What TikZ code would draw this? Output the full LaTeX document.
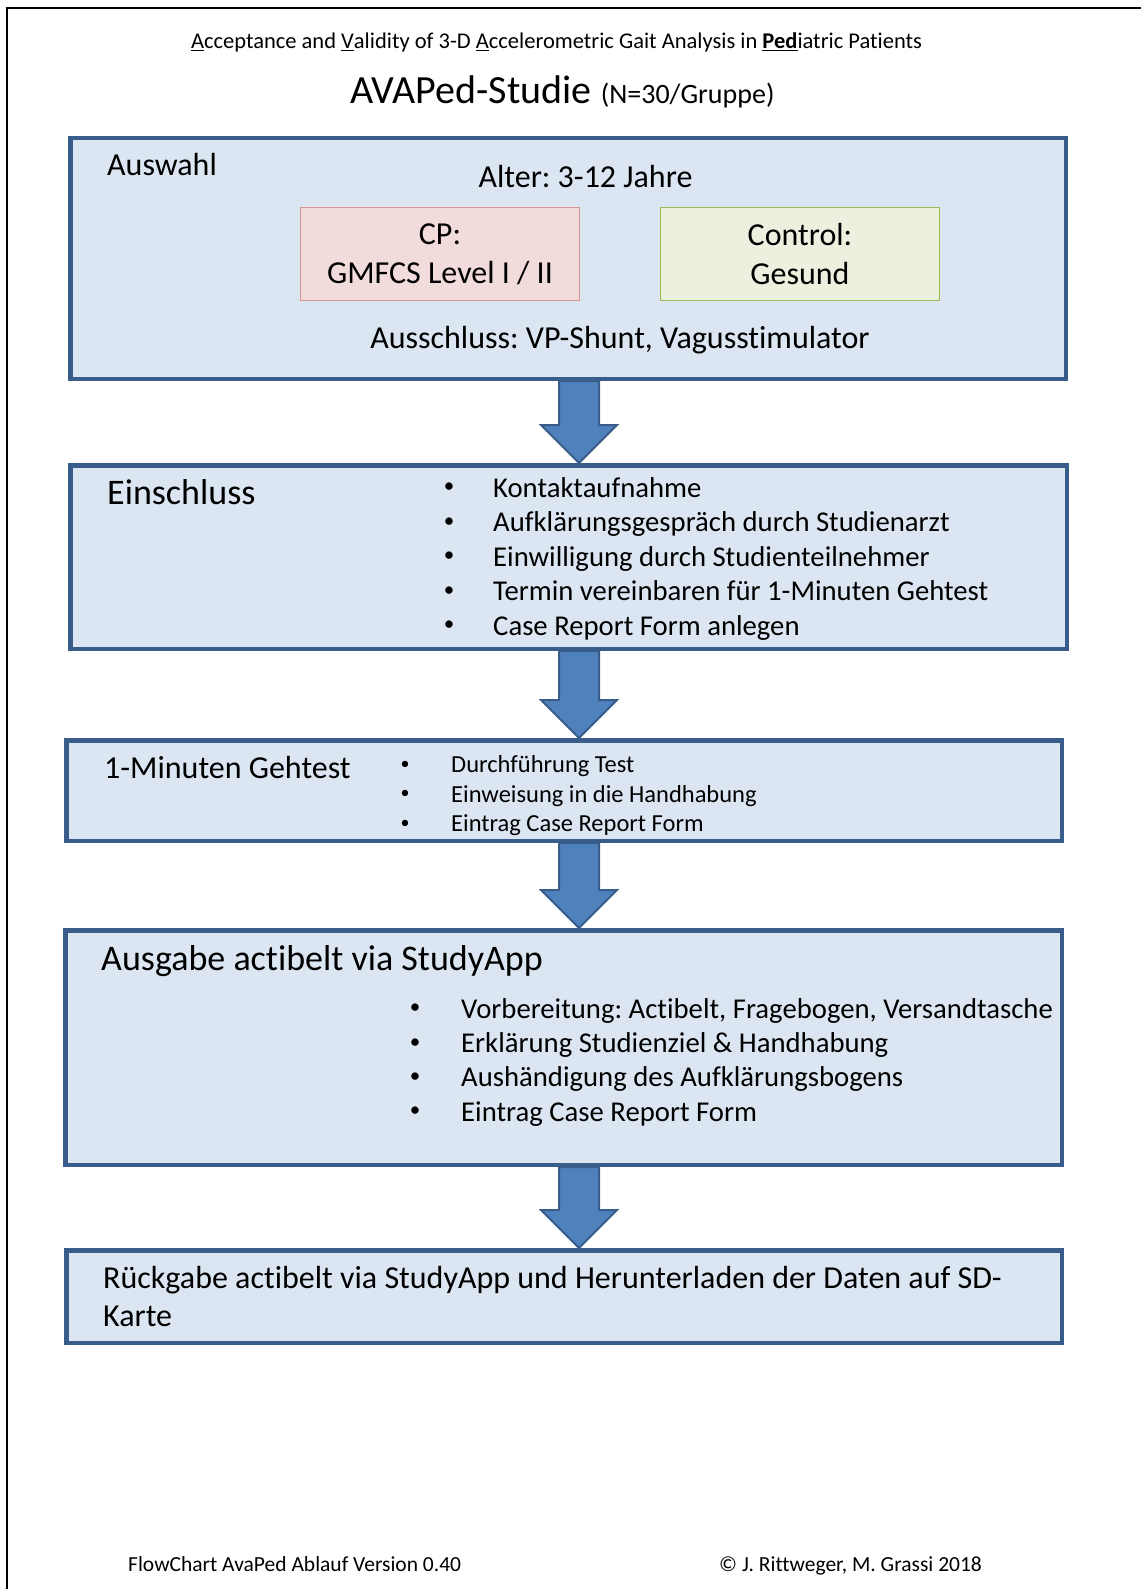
\documentclass[tikz,border=0pt]{standalone}
\usepackage{fontspec}
\setmainfont{Carlito}[Ligatures={NoCommon,NoContextual}, Contextuals=NoAlternate]
\frenchspacing
\usetikzlibrary{calc}
\definecolor{stageline}{HTML}{385D8A}
\definecolor{stagefill}{HTML}{DCE6F2}
\definecolor{arrowfill}{HTML}{4F81BD}
\definecolor{cpfill}{HTML}{F2DCDB}
\definecolor{cpline}{HTML}{D99694}
\definecolor{ctrlfill}{HTML}{EBF1DE}
\definecolor{ctrlline}{HTML}{9BBB59}
\tikzset{
  stage/.style={draw=stageline, fill=stagefill, line width=4.5pt, inner sep=0pt},
  groupbox/.style={line width=1pt, inner sep=0pt, align=center,
    minimum width=279, minimum height=93, font=\fontsize{32}{39}\selectfont},
  txt/.style={anchor=west, inner sep=0pt, font=\fontsize{#1}{#1}\selectfont,
    text height={0.65*#1}, text depth=0pt},
  dot/.style={inner sep=0pt, font=\fontsize{#1}{#1}\selectfont},
  flowarrow/.style={draw=stageline, fill=arrowfill, line width=2pt, line join=miter},
  frame/.style={line width=1.5pt, black}
}
% block arrow between two stages
\newcommand{\flowarrow}[2]{%
  \draw[flowarrow] (559,0 |- #1.south) -- (599,0 |- #1.south)
    -- ($(599,0 |- #2.north)+(0,-38)$) -- ($(617,0 |- #2.north)+(0,-38)$)
    -- (579,0 |- #2.north) -- ($(541,0 |- #2.north)+(0,-38)$)
    -- ($(559,0 |- #2.north)+(0,-38)$) -- cycle;}
\begin{document}
\begin{tikzpicture}[x=1pt, y=-1pt]
  \useasboundingbox (0,0) rectangle (1141,1589);
  \draw[frame] (7,1589) -- (7,8) -- (1141,8);

  % titles
  \node[txt=22.5, anchor=center] (title) at (556.5,41.5)
    {\underline{A}cceptance and \underline{V}alidity of 3-D \underline{A}ccelerometric Gait Analysis in \underline{\textbf{Ped}}iatric Patients};
  \node[txt=40, anchor=center] (study) at (562.5,91)
    {AVAPed-Studie {\fontsize{28}{28}\selectfont(N=30/Gruppe)}};

  % stages
  \node[stage, minimum width=995.5, minimum height=240.5] (auswahl) at (568,258.5) {};
  \node[stage, minimum width=996.5, minimum height=183.5] (einschluss) at (568.5,557) {};
  \node[stage, minimum width=995.5, minimum height=100.5] (gehtest) at (564,790.5) {};
  \node[stage, minimum width=996.5, minimum height=234.5] (ausgabe) at (563.5,1047.5) {};
  \node[stage, minimum width=995.5, minimum height=92.5] (rueckgabe) at (564,1296.5) {};

  \flowarrow{auswahl}{einschluss}
  \flowarrow{einschluss}{gehtest}
  \flowarrow{gehtest}{ausgabe}
  \flowarrow{ausgabe}{rueckgabe}

  % Auswahl
  \node[txt=32] (auswahl-t) at (107,165) {Auswahl};
  \node[txt=32, anchor=center] (alter) at (585.5,177) {Alter: 3-12 Jahre};
  \node[groupbox, draw=cpline, fill=cpfill] (cp) at (440,254) {CP:\\GMFCS Level I / II};
  \node[groupbox, draw=ctrlline, fill=ctrlfill] (control) at (800,254) {Control:\\Gesund};
  \node[txt=32, anchor=center] (ausschluss) at (620,338) {Ausschluss: VP-Shunt, Vagusstimulator};

  % Einschluss
  \node[txt=36] (einschluss-t) at (107,493) {Einschluss};
  \foreach \entry [count=\i] in {Kontaktaufnahme, Aufklärungsgespräch durch Studienarzt,
      Einwilligung durch Studienteilnehmer, Termin vereinbaren für 1-Minuten Gehtest,
      Case Report Form anlegen} {
    \node[dot=21] (ein-b\i) at (449,{488+34.5*(\i-1)}) {•};
    \node[txt=28.7] (ein-i\i) at (493,{488+34.5*(\i-1)}) {\entry};
  }

  % 1-Minuten Gehtest
  \node[txt=32] (gehtest-t) at (104,768) {1-Minuten Gehtest};
  \foreach \entry [count=\i] in {Durchführung Test, Einweisung in die Handhabung,
      Eintrag Case Report Form} {
    \node[dot=18] (geh-b\i) at (405,{765+29.5*(\i-1)}) {•};
    \node[txt=24.5] (geh-i\i) at (451,{765+29.5*(\i-1)}) {\entry};
  }

  % Ausgabe
  \node[txt=36] (ausgabe-t) at (101,959) {Ausgabe actibelt via StudyApp};
  \foreach \entry [count=\i] in {{Vorbereitung: Actibelt, Fragebogen, Versandtasche},
      Erklärung Studienziel \& Handhabung, Aushändigung des Aufklärungsbogens,
      Eintrag Case Report Form} {
    \node[dot=21] (aus-b\i) at (415,{1009+34.3*(\i-1)}) {•};
    \node[txt=28.7] (aus-i\i) at (461,{1009+34.3*(\i-1)}) {\entry};
  }

  % Rueckgabe
  \node[anchor=west, inner sep=0pt, align=left, font=\fontsize{32}{38}\selectfont] (rueckgabe-t)
    at (103,1296) {Rückgabe actibelt via StudyApp und Herunterladen der Daten auf SD-\\Karte};

  % footer
  \node[txt=21.5] (version) at (128,1564) {FlowChart AvaPed Ablauf Version 0.40};
  \node[txt=21.5] (copyright) at (719,1564) {© J. Rittweger, M. Grassi 2018};
\end{tikzpicture}
\end{document}
